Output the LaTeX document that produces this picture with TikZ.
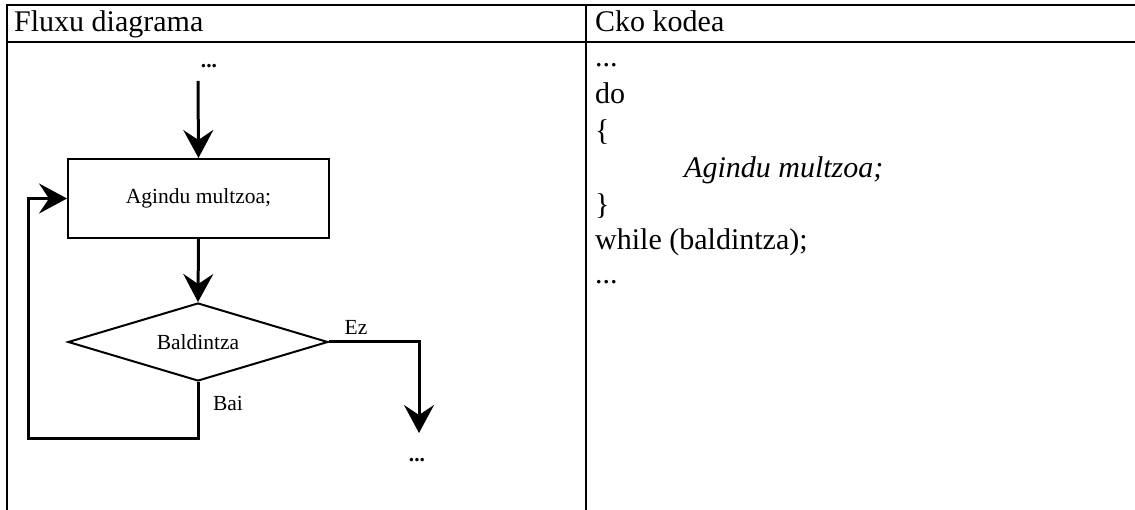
\documentclass[tikz,border=0pt]{standalone}
\usepackage{fontspec}
\setmainfont{Liberation Serif}
\usetikzlibrary{arrows.meta,shapes.geometric}
\tikzset{
  lbl/.style={font=\fontsize{21.5}{26}\selectfont, inner sep=0pt},
  codetxt/.style={font=\fontsize{30}{36}\selectfont, inner sep=0pt, anchor=base west},
  flow/.style={line width=3pt, -{Stealth[length=28pt,width=30pt,inset=10pt]}},
  rule/.style={line width=2pt},
}

\begin{document}
\begin{tikzpicture}[x=1pt,y=-1pt]
		\useasboundingbox (0,0) rectangle (1135,510);
		%%%%% TABLE %%%%%
		
		\draw[rule] (6,5) -- (1135,5);
		\draw[rule] (6,42) -- (1135,42);
		\draw[rule] (7,4) -- (7,510);
		\draw[rule] (586,4) -- (586,510);
		\node[codetxt] (hdleft) at (14,32) {Fluxu diagrama};
		\node[codetxt] (hdright) at (595,32) {Cko kodea};
		
		%%%%% FLOW %%%%%
		
		\node[lbl] (dotsin) at (209,66) {\textbf{...}};
		\coordinate (start) at (198,81);
		\node[lbl, draw, line width=2pt, minimum width=261pt, minimum height=79pt] (block) at (198.5,198.5) {Agindu multzoa;};
		\node[lbl, draw, diamond, aspect=3, line width=2pt, minimum width=260pt, minimum height=78pt] (cond) at (198,342) {Baldintza};
		\node[lbl] (ez) at (356,327) {Ez};
		\node[lbl] (bai) at (228,403) {Bai};
		\coordinate (exit) at (419,433);
		\node[lbl] (dotsout) at (417,460) {\textbf{...}};
		
		\draw[flow] (start) -- (block.north);
		\draw[flow] (block.south) -- (cond.north);
		\draw[flow] (cond.east) -| (exit);
		\draw[flow] (cond.south) -- ++(0,56) -| (28,198.5) -- (block.west);
		
		%%%%% CODE %%%%%
		
		\node[codetxt] (c1) at (595,67) {...};
		\node[codetxt] (c2) at (595,104) {do};
		\node[codetxt] (c3) at (595,141) {\{};
		\node[codetxt] (c4) at (684,178) {\textit{Agindu multzoa;}};
		\node[codetxt] (c5) at (595,215) {\}};
		\node[codetxt] (c6) at (595,250) {while (baldintza);};
		\node[codetxt] (c7) at (595,284) {...};
		
		%%%%% END %%%%%
	\end{tikzpicture}
\end{document}
